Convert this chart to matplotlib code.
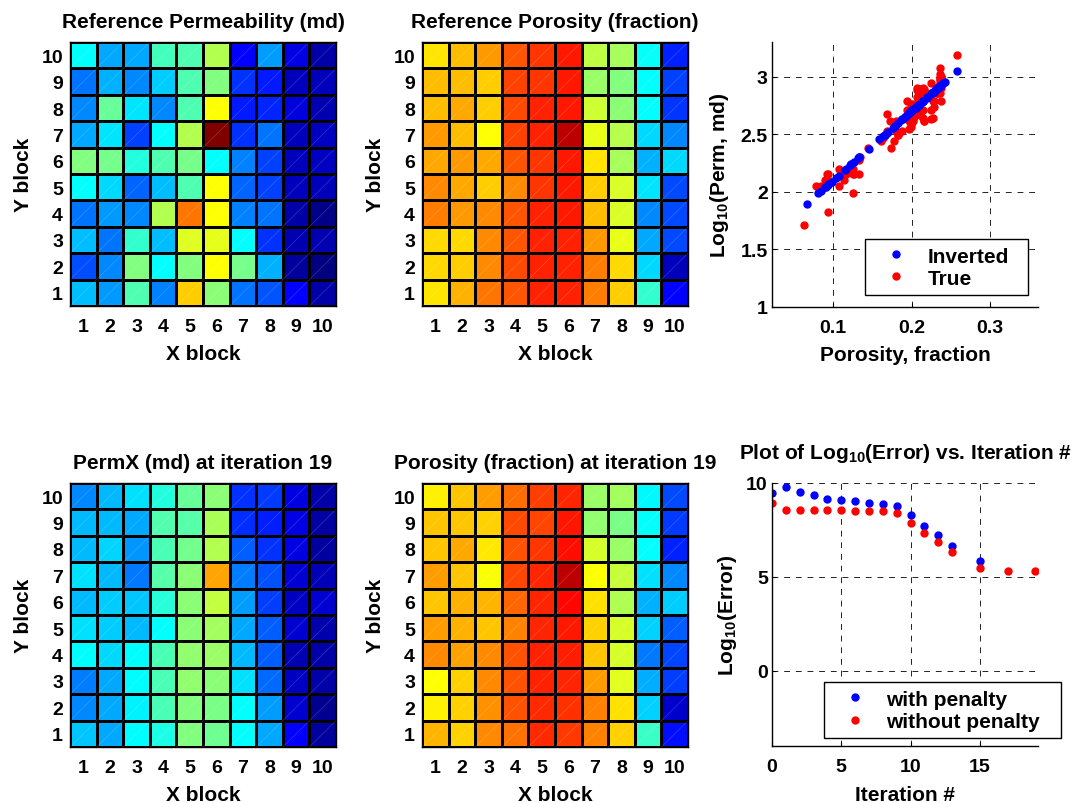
import numpy as np
import matplotlib
matplotlib.use('Agg')
import matplotlib.pyplot as plt
from matplotlib.collections import LineCollection
from matplotlib.lines import Line2D
from matplotlib.colors import LinearSegmentedColormap

plt.rcParams['font.family'] = ['Liberation Sans', 'DejaVu Sans']
plt.rcParams['font.weight'] = 'bold'
plt.rcParams['axes.labelweight'] = 'bold'
plt.rcParams['axes.titleweight'] = 'bold'
plt.rcParams['mathtext.default'] = 'regular'

blocks = list(range(1, 11))

# Grids: rows listed from Y block 10 (top) down to Y block 1; columns X block 1..10
perm_ref = [  # md
    [614, 486, 486, 711, 726, 876, 239, 471, 202, 112],
    [412, 501, 441, 539, 726, 801, 314, 277, 142, 142],
    [441, 764, 576, 441, 726, 988, 277, 292, 187, 127],
    [486, 576, 337, 614, 876, 1550, 314, 412, 142, 157],
    [801, 786, 666, 726, 786, 614, 427, 337, 142, 157],
    [614, 561, 389, 516, 726, 988, 389, 337, 142, 142],
    [412, 464, 441, 876, 1190, 988, 427, 412, 112, 67],
    [516, 412, 689, 516, 936, 951, 614, 314, 127, 127],
    [352, 441, 801, 614, 801, 988, 786, 501, 97, 52],
    [516, 464, 726, 427, 1063, 816, 412, 367, 239, 112],
]
poro_ref = [  # fraction
    [0.194, 0.202, 0.210, 0.225, 0.232, 0.238, 0.174, 0.169, 0.134, 0.085],
    [0.202, 0.202, 0.199, 0.229, 0.232, 0.238, 0.166, 0.161, 0.133, 0.092],
    [0.202, 0.207, 0.199, 0.227, 0.236, 0.238, 0.177, 0.163, 0.133, 0.089],
    [0.210, 0.202, 0.188, 0.229, 0.236, 0.258, 0.183, 0.172, 0.125, 0.107],
    [0.207, 0.210, 0.207, 0.225, 0.232, 0.238, 0.194, 0.169, 0.116, 0.125],
    [0.214, 0.207, 0.199, 0.214, 0.232, 0.238, 0.199, 0.180, 0.127, 0.094],
    [0.216, 0.210, 0.214, 0.225, 0.236, 0.238, 0.202, 0.180, 0.107, 0.094],
    [0.196, 0.196, 0.214, 0.225, 0.236, 0.236, 0.210, 0.183, 0.114, 0.094],
    [0.196, 0.199, 0.214, 0.227, 0.236, 0.236, 0.216, 0.196, 0.125, 0.063],
    [0.194, 0.205, 0.218, 0.225, 0.236, 0.236, 0.216, 0.199, 0.144, 0.078],
]
perm_it19 = [  # md
    [444, 509, 569, 662, 762, 817, 313, 322, 196, 116],
    [509, 509, 489, 731, 741, 863, 305, 285, 199, 109],
    [509, 553, 456, 721, 783, 875, 376, 313, 199, 102],
    [569, 509, 420, 741, 817, 1122, 426, 360, 180, 138],
    [509, 538, 531, 671, 817, 900, 469, 331, 157, 170],
    [569, 538, 509, 618, 817, 851, 489, 376, 173, 122],
    [610, 561, 610, 721, 828, 839, 509, 376, 133, 114],
    [426, 489, 610, 721, 828, 817, 569, 392, 155, 111],
    [444, 489, 593, 721, 805, 794, 618, 469, 173, 79],
    [531, 489, 610, 653, 805, 773, 618, 489, 234, 97],
]
poro_it19 = [  # fraction
    [0.191, 0.201, 0.209, 0.220, 0.230, 0.235, 0.166, 0.168, 0.132, 0.094],
    [0.201, 0.201, 0.198, 0.227, 0.228, 0.239, 0.164, 0.159, 0.133, 0.090],
    [0.201, 0.207, 0.193, 0.226, 0.232, 0.240, 0.179, 0.166, 0.133, 0.085],
    [0.209, 0.201, 0.187, 0.228, 0.235, 0.258, 0.188, 0.176, 0.126, 0.107],
    [0.201, 0.205, 0.204, 0.221, 0.235, 0.242, 0.195, 0.170, 0.116, 0.122],
    [0.209, 0.205, 0.201, 0.215, 0.235, 0.238, 0.198, 0.179, 0.123, 0.098],
    [0.214, 0.208, 0.214, 0.226, 0.236, 0.237, 0.201, 0.179, 0.104, 0.093],
    [0.188, 0.198, 0.214, 0.226, 0.236, 0.235, 0.209, 0.182, 0.115, 0.091],
    [0.191, 0.198, 0.212, 0.226, 0.234, 0.233, 0.215, 0.195, 0.123, 0.067],
    [0.204, 0.198, 0.214, 0.219, 0.234, 0.231, 0.215, 0.198, 0.145, 0.081],
]
perm_clim = (52, 1550)
poro_clim = (0.050, 0.271)

# Error history
iter_pen = [0, 1, 2, 3, 4, 5, 6, 7, 8, 9, 10, 11, 12, 13, 15]
err_pen = [9.45, 9.77, 9.52, 9.35, 9.17, 9.10, 9.03, 8.94, 8.87, 8.78, 8.27, 7.73, 7.22, 6.64, 5.84]
iter_nopen = [0, 1, 2, 3, 4, 5, 6, 7, 8, 9, 10, 11, 12, 13, 15, 17, 19]
err_nopen = [8.96, 8.58, 8.58, 8.58, 8.58, 8.58, 8.51, 8.51, 8.51, 8.41, 7.89, 7.36, 6.87, 6.33, 5.48, 5.30, 5.30]

# MATLAB-style jet colormap
jet_m = LinearSegmentedColormap('jet_matlab', {
    'red': [(0, 0, 0), (0.375, 0, 0), (0.625, 1, 1), (0.875, 1, 1), (1, 0.5, 0.5)],
    'green': [(0, 0, 0), (0.125, 0, 0), (0.375, 1, 1), (0.625, 1, 1), (0.875, 0, 0), (1, 0, 0)],
    'blue': [(0, 0.5, 0.5), (0.125, 1, 1), (0.375, 1, 1), (0.625, 0, 0), (1, 0, 0)],
}, N=256)

FS = 15
TFS = 14

fig = plt.figure(figsize=(10.8, 8.04), dpi=100)


def grid_panel(rect, data, clim, title):
    ax = fig.add_axes(rect)
    arr = np.array(data, dtype=float)[::-1]
    edges = np.arange(0.5, 11.5, 1.0)
    ax.pcolormesh(edges, edges, arr, cmap=jet_m, vmin=clim[0], vmax=clim[1],
                  edgecolors='k', linewidth=1.0)
    segs = [[(x - 0.5, y - 0.5), (x + 0.5, y + 0.5)] for x in blocks for y in blocks]
    ax.add_collection(LineCollection(segs, colors='white', linewidths=0.5, alpha=0.2))
    ax.set_xlim(0.5, 10.5)
    ax.set_ylim(0.5, 10.5)
    ax.set_xticks(blocks)
    ax.set_yticks(blocks)
    ax.tick_params(length=0, labelsize=TFS)
    ax.tick_params(axis='x', pad=9)
    ax.tick_params(axis='y', pad=5)
    for s in ax.spines.values():
        s.set_linewidth(1.0)
    ax.set_xlabel('X block', fontsize=FS, labelpad=6)
    ax.set_ylabel('Y block', fontsize=FS, labelpad=6)
    ax.set_title(title, fontsize=FS, pad=11)
    return ax


W = 266 / 1080
H = 264 / 804
grid_panel([70 / 1080, 1 - 307 / 804, W, H], perm_ref, perm_clim, 'Reference Permeability (md)')
grid_panel([422 / 1080, 1 - 307 / 804, W, H], poro_ref, poro_clim, 'Reference Porosity (fraction)')
grid_panel([70 / 1080, 1 - 748 / 804, W, H], perm_it19, perm_clim, 'PermX (md) at iteration 19')
grid_panel([422 / 1080, 1 - 748 / 804, W, H], poro_it19, poro_clim, 'Porosity (fraction) at iteration 19')


def style_line_axes(ax):
    for side in ['top', 'right']:
        ax.spines[side].set_visible(False)
    for side in ['left', 'bottom']:
        ax.spines[side].set_linewidth(1.0)
    ax.grid(True, color='#222222', linestyle=(0, (6, 6)), linewidth=0.7)
    ax.set_axisbelow(True)
    ax.tick_params(direction='in', length=3, labelsize=TFS)
    ax.tick_params(axis='x', pad=9)
    ax.tick_params(axis='y', pad=3)


def make_legend(ax, handles, labels, bbox):
    leg = ax.legend(handles, labels, loc='lower left', bbox_to_anchor=bbox, mode='expand',
                    fontsize=FS, frameon=True, fancybox=False, edgecolor='black', framealpha=1,
                    borderpad=0.35, handletextpad=0.35, labelspacing=0.15, handlelength=2.3,
                    borderaxespad=0)
    leg.get_frame().set_linewidth(1.0)
    return leg


# Scatter: porosity vs log10 perm
ax5 = fig.add_axes([772 / 1080, 1 - 308 / 804, 266 / 1080, 265 / 804])
ax5.plot(np.ravel(poro_ref), np.log10(np.ravel(perm_ref)), 'o', color='red', ms=5, mec='red', ls='none')
ax5.plot(np.ravel(poro_it19), np.log10(np.ravel(perm_it19)), 'o', color='blue', ms=5, mec='blue', ls='none')
ax5.set_xlim(0.022, 0.361)
ax5.set_ylim(1, 3.3)
ax5.set_xticks([0.1, 0.2, 0.3])
ax5.set_xticklabels(['0.1', '0.2', '0.3'])
ax5.set_yticks([1, 1.5, 2, 2.5, 3])
ax5.set_yticklabels(['1', '1.5', '2', '2.5', '3'])
style_line_axes(ax5)
ax5.set_xlabel('Porosity, fraction', fontsize=FS, labelpad=6)
ax5.set_ylabel('Log$_{10}$(Perm, md)', fontsize=FS, labelpad=7)
h_inv = Line2D([], [], marker='o', color='blue', ls='none', ms=5)
h_true = Line2D([], [], marker='o', color='red', ls='none', ms=5)
make_legend(ax5, [h_inv, h_true], ['Inverted', 'True'], (0.35, 0.045, 0.612, 0.225))

# Error vs iteration
ax6 = fig.add_axes([772 / 1080, 1 - 747 / 804, 266 / 1080, 263 / 804])
ax6.plot(iter_pen, err_pen, 'o', color='blue', ms=5, mec='blue', ls='none')
ax6.plot(iter_nopen, err_nopen, 'o', color='red', ms=5, mec='red', ls='none')
ax6.set_xlim(0, 19.2)
ax6.set_ylim(-4, 10)
ax6.set_xticks([0, 5, 10, 15])
ax6.set_yticks([0, 5, 10])
style_line_axes(ax6)
ax6.set_xlabel('Iteration #', fontsize=FS, labelpad=7)
ax6.set_ylabel('Log$_{10}$(Error)', fontsize=FS, labelpad=5)
ax6.set_title('Plot of Log$_{10}$(Error) vs. Iteration #', fontsize=FS, pad=18)
h_pen = Line2D([], [], marker='o', color='blue', ls='none', ms=5)
h_nopen = Line2D([], [], marker='o', color='red', ls='none', ms=5)
make_legend(ax6, [h_pen, h_nopen], ['with penalty', 'without penalty'], (0.195, 0.03, 0.89, 0.23))

fig.savefig('out.png', dpi=100, facecolor='white')
